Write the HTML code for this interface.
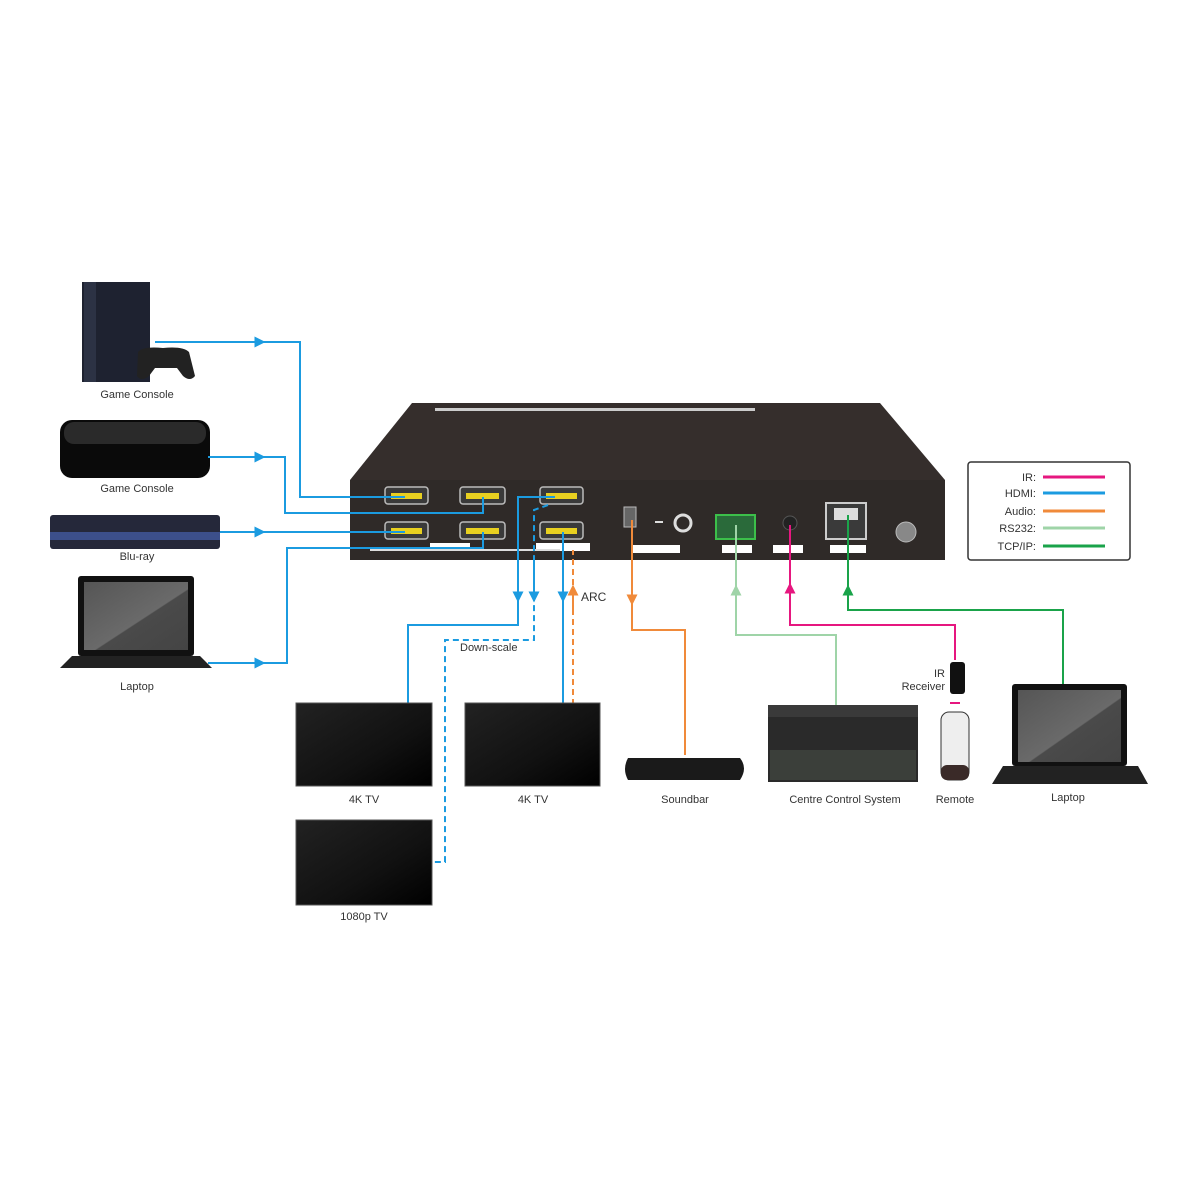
<!DOCTYPE html>
<html><head><meta charset="utf-8"><style>body{margin:0;background:#fff}svg{display:block}text{font-family:"Liberation Sans",sans-serif;fill:#333}</style></head><body>
<svg width="1200" height="1200" viewBox="0 0 1200 1200" xmlns="http://www.w3.org/2000/svg">
<defs>
<marker id="a" viewBox="0 0 10 10" refX="5" refY="5" markerWidth="5.5" markerHeight="5.5" orient="auto"><path d="M0,0L10,5L0,10z" fill="context-stroke"/></marker>
<linearGradient id="scr" x1="0" y1="0" x2="1" y2="1"><stop offset="0" stop-color="#222"/><stop offset=".6" stop-color="#111"/><stop offset="1" stop-color="#000"/></linearGradient>
<linearGradient id="lscr" x1="0" y1="0" x2="1" y2="1"><stop offset="0" stop-color="#555"/><stop offset=".55" stop-color="#6a6a6a"/><stop offset=".56" stop-color="#4a4a4a"/><stop offset="1" stop-color="#444"/></linearGradient>
</defs>
<rect x="82" y="282" width="68" height="100" fill="#1e2230"/><rect x="84" y="282" width="12" height="100" fill="#2c3244"/>
<path d="M138,352 q5,-6 25,-4 q20,-2 26,4 l6,24 q-5,6 -12,0 l-6,-8 h-22 l-6,8 q-8,6 -12,0z" fill="#222"/>
<text x="137" y="398" font-size="11" text-anchor="middle">Game Console</text>
<rect x="60" y="420" width="150" height="58" rx="12" fill="#0a0a0a"/><rect x="64" y="422" width="142" height="22" rx="10" fill="#2a2a2a"/>
<text x="137" y="492" font-size="11" text-anchor="middle">Game Console</text>
<rect x="50" y="515" width="170" height="34" rx="3" fill="#25283a"/><rect x="50" y="532" width="170" height="8" fill="#3c4f8a"/>
<text x="137" y="560" font-size="11" text-anchor="middle">Blu-ray</text>
<rect x="78" y="576" width="116" height="80" rx="3" fill="#111"/><rect x="84" y="582" width="104" height="68" fill="url(#lscr)"/>
<path d="M72,656 h128 l12,12 h-152z" fill="#222"/>
<text x="137" y="690" font-size="11" text-anchor="middle">Laptop</text>
<path d="M412,403 H880 L945,480 V560 H350 V480 Z" fill="#352e2c"/>
<rect x="350" y="480" width="595" height="80" fill="#2f2a28"/>
<rect x="435" y="408" width="320" height="3" fill="#ccc"/>
<g fill="#3a3a3a" stroke="#bbb" stroke-width="1.5">
<rect x="385" y="487" width="43" height="17" rx="3"/><rect x="460" y="487" width="45" height="17" rx="3"/><rect x="540" y="487" width="43" height="17" rx="3"/>
<rect x="385" y="522" width="43" height="17" rx="3"/><rect x="460" y="522" width="45" height="17" rx="3"/><rect x="540" y="522" width="43" height="17" rx="3"/></g>
<g fill="#e8d020"><rect x="391" y="493" width="31" height="6"/><rect x="466" y="493" width="33" height="6"/><rect x="546" y="493" width="31" height="6"/><rect x="391" y="528" width="31" height="6"/><rect x="466" y="528" width="33" height="6"/><rect x="546" y="528" width="31" height="6"/></g>
<rect x="624" y="507" width="12" height="20" fill="#666" stroke="#bbb"/>
<rect x="655" y="521" width="8" height="2" fill="#ddd"/><circle cx="683" cy="523" r="8" fill="none" stroke="#ddd" stroke-width="3"/>
<rect x="716" y="515" width="39" height="24" fill="#2a6a3a" stroke="#3cbf4a" stroke-width="2"/>
<circle cx="790" cy="523" r="7" fill="#222" stroke="#555"/>
<rect x="826" y="503" width="40" height="36" fill="#3a3a3a" stroke="#ccc" stroke-width="2"/><rect x="834" y="508" width="24" height="12" fill="#ddd"/>
<circle cx="906" cy="532" r="10" fill="#888" stroke="#bbb"/>
<g fill="#fff"><rect x="430" y="543" width="40" height="8"/><rect x="536" y="543" width="54" height="8"/><rect x="632" y="545" width="48" height="8"/><rect x="722" y="545" width="30" height="8"/><rect x="773" y="545" width="30" height="8"/><rect x="830" y="545" width="36" height="8"/></g>
<rect x="370" y="549" width="190" height="2" fill="#ddd"/>
<g fill="none" stroke-width="2">
<g stroke="#1b9be0">
<path d="M155,342H300V497H405" /><path d="M155,342H260" marker-end="url(#a)"/>
<path d="M208,457H285V513H483V497"/><path d="M208,457H260" marker-end="url(#a)"/>
<path d="M220,532H405"/><path d="M220,532H260" marker-end="url(#a)"/>
<path d="M208,663H287V548H483V532"/><path d="M208,663H260" marker-end="url(#a)"/>
<path d="M555,497H518V625H408V705"/><path d="M518,560V597" marker-end="url(#a)"/>
<path d="M548,505L534,510V640H445V862H432" stroke-dasharray="6,4"/><path d="M534,560V597" marker-end="url(#a)"/>
<path d="M563,532V705"/><path d="M563,560V597" marker-end="url(#a)"/>
</g>
<path d="M573,705V550" stroke="#f08a3a" stroke-dasharray="6,4"/><path d="M573,610V590" stroke="#f08a3a" marker-end="url(#a)"/>
<path d="M632,520V630H685V755" stroke="#f08a3a"/><path d="M632,580V600" stroke="#f08a3a" marker-end="url(#a)"/>
<path d="M736,525V635H836V712" stroke="#9fd4a8"/><path d="M736,605V590" stroke="#9fd4a8" marker-end="url(#a)"/>
<path d="M790,525V625H955V660" stroke="#e6177f"/><path d="M790,605V588" stroke="#e6177f" marker-end="url(#a)"/>
<path d="M848,515V610H1063V685" stroke="#1aa34a"/><path d="M848,605V590" stroke="#1aa34a" marker-end="url(#a)"/>
</g>
<text x="581" y="601" font-size="12">ARC</text>
<text x="460" y="651" font-size="11">Down-scale</text>
<rect x="296" y="703" width="136" height="83" fill="url(#scr)" stroke="#555"/><text x="364" y="803" font-size="11" text-anchor="middle">4K TV</text>
<rect x="465" y="703" width="135" height="83" fill="url(#scr)" stroke="#555"/><text x="533" y="803" font-size="11" text-anchor="middle">4K TV</text>
<rect x="296" y="820" width="136" height="85" fill="url(#scr)" stroke="#555"/><text x="364" y="920" font-size="11" text-anchor="middle">1080p TV</text>
<path d="M628,758H740Q748,768 740,780H628Q622,769 628,758z" fill="#1a1a1a"/><text x="685" y="803" font-size="11" text-anchor="middle">Soundbar</text>
<rect x="768" y="705" width="150" height="77" fill="#2a2a2a"/><rect x="768" y="705" width="150" height="12" fill="#3a3a3a"/><rect x="770" y="750" width="146" height="30" fill="#3b3f3a"/>
<text x="845" y="803" font-size="11" text-anchor="middle">Centre Control System</text>
<rect x="950" y="662" width="15" height="32" rx="3" fill="#111"/>
<text x="945" y="677" font-size="11" text-anchor="end">IR</text><text x="945" y="690" font-size="11" text-anchor="end">Receiver</text>
<rect x="941" y="712" width="28" height="68" rx="8" fill="#eee" stroke="#333"/><rect x="941" y="765" width="28" height="15" rx="6" fill="#3a2a28"/>
<path d="M950,703h10" stroke="#e6177f" stroke-width="2"/>
<text x="955" y="803" font-size="11" text-anchor="middle">Remote</text>
<rect x="1012" y="684" width="115" height="82" rx="3" fill="#111"/><rect x="1018" y="690" width="103" height="72" fill="url(#lscr)"/>
<path d="M1003,766h135l10,18h-156z" fill="#222"/>
<text x="1068" y="801" font-size="11" text-anchor="middle">Laptop</text>
<rect x="968" y="462" width="162" height="98" rx="3" fill="#fff" stroke="#333" stroke-width="1.5"/>
<g font-size="11" text-anchor="end"><text x="1036" y="481">IR:</text><text x="1036" y="497">HDMI:</text><text x="1036" y="515">Audio:</text><text x="1036" y="532">RS232:</text><text x="1036" y="550">TCP/IP:</text></g>
<g stroke-width="3"><path d="M1043,477H1105" stroke="#e6177f"/><path d="M1043,493H1105" stroke="#1b9be0"/><path d="M1043,511H1105" stroke="#f08a3a"/><path d="M1043,528H1105" stroke="#9fd4a8"/><path d="M1043,546H1105" stroke="#1aa34a"/></g>
</svg>
</body></html>
